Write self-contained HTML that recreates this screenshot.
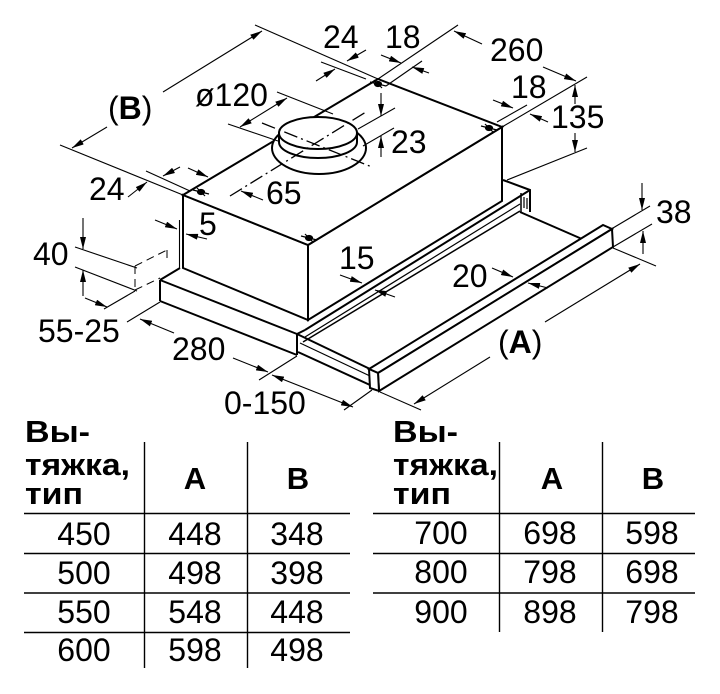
<!DOCTYPE html>
<html><head><meta charset="utf-8"><style>
html,body{margin:0;padding:0;background:#fff;}
svg{display:block;}
text{font-family:"Liberation Sans",Arial,sans-serif;fill:#000;}
</style></head><body>
<svg width="720" height="694" viewBox="0 0 720 694" xmlns="http://www.w3.org/2000/svg">
<defs>
<marker id="a" viewBox="0 0 12 6" refX="12" refY="3" markerWidth="12" markerHeight="6" markerUnits="userSpaceOnUse" orient="auto-start-reverse"><path d="M0,0L12,3L0,6z" fill="#000"/></marker>
</defs>
<rect width="720" height="694" fill="#fff"/>

<!-- base block -->
<g stroke="#000" stroke-width="2" fill="none" stroke-linejoin="miter">
<path d="M160,280L180,268"/>
<path d="M160,280L297,334"/>
<path d="M160,301L297,355"/>
<path d="M160,280V301"/>
<path d="M297,334V355"/>
<path d="M297,334L305,330"/>
<!-- rails -->
<path d="M305,330L530,190"/>
<path d="M305,337L520,204" stroke-width="1.2"/>
<path d="M303,342L520,211" stroke-width="1.5"/>
<!-- tray left rail -->
<path d="M297,334L370,369"/>
<path d="M300,343L370,376" stroke-width="1.2"/>
<path d="M298,352L370,385"/>
<!-- bracket -->
<path d="M503,180L530,190V212"/>
<path d="M521,193V212" stroke-width="1.5"/>
<path d="M524,197V208M527,198V209" stroke-width="1.2"/>
<!-- tray right edge -->
<path d="M520,212L582,239"/>
</g>

<!-- box -->
<g stroke="#000" stroke-width="2" fill="#fff" stroke-linejoin="miter">
<polygon points="183,195 308,245 308,320 183,268"/>
<polygon points="308,245 502,127 502,201 308,320"/>
<polygon points="183,195 378,79 502,127 308,245"/>
</g>
<path d="M179.5,220V268" stroke="#000" stroke-width="1.1"/>

<!-- bar -->
<g stroke="#000" stroke-width="2" fill="#fff" stroke-linejoin="miter">
<polygon points="369,369 603,225 612,229 378,373"/>
<polygon points="378,373 612,229 613,247 379,391"/>
<polygon points="369,369 378,373 379,391 370,388"/>
</g>

<!-- duct -->
<g stroke="#000" stroke-width="2" fill="#fff">
<ellipse cx="319" cy="148" rx="47" ry="26"/>
<path d="M279,133V142A39,16 0 0 0 357,142V133Z"/>
<ellipse cx="318" cy="133" rx="39" ry="16"/>
</g>

<!-- center lines -->
<g stroke="#000" stroke-width="1.3" fill="none" stroke-dasharray="14 4 2 4">
<path d="M230,196L366,112"/>
<path d="M262,123L372,167"/>
</g>

<!-- mounting marks -->
<g fill="#000" stroke="#000" stroke-width="1.2">
<ellipse cx="201" cy="192" rx="3.5" ry="2.5"/><path d="M193,190L209,194M197,188L205,196"/>
<ellipse cx="309" cy="238" rx="3.5" ry="2.5"/><path d="M301,236L317,240M305,234L313,242"/>
<ellipse cx="378" cy="84" rx="3.5" ry="2.5"/><path d="M370,82L386,86M374,80L382,88"/>
<ellipse cx="489" cy="128" rx="3.5" ry="2.5"/><path d="M481,126L497,130M485,124L493,132"/>
</g>

<!-- dimension lines -->
<g stroke="#000" stroke-width="1.1" fill="none">
<path d="M255,25L378,79"/>
<path d="M60,145L183,195"/>
<line x1="163" y1="92" x2="262" y2="31" marker-end="url(#a)"/>
<line x1="107" y1="127" x2="72" y2="148" marker-end="url(#a)"/>
<path d="M228,124L278,141"/>
<path d="M277,92L333,114"/>
<line x1="240" y1="127" x2="287" y2="98" marker-start="url(#a)" marker-end="url(#a)"/>
<path d="M321,62L366,79"/>
<line x1="316" y1="81" x2="335" y2="69" marker-end="url(#a)"/>
<line x1="366" y1="50" x2="347" y2="61" marker-end="url(#a)"/>
<path d="M378,79L458,25"/>
<path d="M386,86L422,61"/>
<line x1="381" y1="55" x2="401" y2="63" marker-end="url(#a)"/>
<line x1="429" y1="73" x2="412" y2="67" marker-end="url(#a)"/>
<path d="M502,127L587,77"/>
<line x1="482" y1="44" x2="454" y2="31" marker-end="url(#a)"/>
<line x1="543" y1="67" x2="576" y2="81" marker-end="url(#a)"/>
<path d="M497,122L527,105"/>
<line x1="493" y1="100" x2="513" y2="108" marker-end="url(#a)"/>
<line x1="548" y1="122" x2="530" y2="114" marker-end="url(#a)"/>
<path d="M507,180L587,148"/>
<line x1="575" y1="104" x2="575" y2="85" marker-end="url(#a)"/>
<line x1="575" y1="133" x2="575" y2="152" marker-end="url(#a)"/>
<path d="M358,129L395,108"/>
<path d="M363,146L394,128"/>
<line x1="381" y1="93" x2="381" y2="116" marker-end="url(#a)"/>
<line x1="381" y1="157" x2="381" y2="136" marker-end="url(#a)"/>
<line x1="263" y1="200" x2="241" y2="191" marker-end="url(#a)"/>
<path d="M146,171L190,191"/>
<line x1="128" y1="197" x2="147" y2="182" marker-end="url(#a)"/>
<line x1="180" y1="167" x2="163" y2="176" marker-end="url(#a)"/>
<line x1="188" y1="168" x2="208" y2="177" marker-end="url(#a)"/>
<line x1="155" y1="220" x2="177" y2="229" marker-end="url(#a)"/>
<line x1="207" y1="239" x2="186" y2="234" marker-end="url(#a)"/>
<path d="M75,247L137,268"/>
<path d="M75,267L137,291"/>
<line x1="83" y1="218" x2="83" y2="249" marker-end="url(#a)"/>
<line x1="83" y1="296" x2="83" y2="270" marker-end="url(#a)"/>
<path d="M135,291L104,309"/>
<line x1="85" y1="298" x2="107" y2="307" marker-end="url(#a)"/>
<path d="M160,302L127,322"/>
<path d="M297,356L259,380"/>
<line x1="174" y1="333" x2="140" y2="319" marker-end="url(#a)"/>
<line x1="233" y1="358" x2="268" y2="372" marker-end="url(#a)"/>
<path d="M372,390L344,410"/>
<line x1="272" y1="375" x2="353" y2="407" marker-start="url(#a)" marker-end="url(#a)"/>
<path d="M380,392L421,410"/>
<path d="M613,248L656,266"/>
<line x1="545" y1="322" x2="640" y2="264" marker-end="url(#a)"/>
<line x1="490" y1="357" x2="414" y2="404" marker-end="url(#a)"/>
<path d="M613,228L650,206"/>
<path d="M613,247L652,224"/>
<line x1="642" y1="183" x2="642" y2="210" marker-end="url(#a)"/>
<line x1="643" y1="254" x2="643" y2="231" marker-end="url(#a)"/>
<line x1="340" y1="275" x2="362" y2="283" marker-end="url(#a)"/>
<line x1="395" y1="297" x2="375" y2="290" marker-end="url(#a)"/>
<line x1="492" y1="268" x2="513" y2="277" marker-end="url(#a)"/>
<line x1="548" y1="288" x2="528" y2="283" marker-end="url(#a)"/>
</g>

<!-- dashed box -->
<g stroke="#000" stroke-width="1" fill="none" stroke-dasharray="8 5">
<path d="M135,266V290"/>
<path d="M135,266L167,250"/>
<path d="M167,250V262"/>
<path d="M135,290L160,278"/>
</g>

<!-- dimension labels -->
<g font-size="32">
<text x="323" y="48">24</text>
<text x="385" y="48">18</text>
<text x="490" y="61">260</text>
<text x="195" y="106">ø120</text>
<text x="108" y="119">(<tspan font-weight="bold">B</tspan>)</text>
<text x="511" y="98">18</text>
<text x="551" y="128">135</text>
<text x="391" y="153">23</text>
<text x="89" y="200">24</text>
<text x="266" y="204">65</text>
<text x="199" y="235">5</text>
<text x="33" y="265">40</text>
<text x="339" y="269">15</text>
<text x="452" y="287">20</text>
<text x="656" y="223">38</text>
<text x="38" y="342">55-25</text>
<text x="498" y="353">(<tspan font-weight="bold">A</tspan>)</text>
<text x="172" y="360">280</text>
<text x="224" y="414">0-150</text>
</g>

<!-- tables -->
<g stroke="#000" stroke-width="1.4">
<line x1="144.5" y1="442" x2="144.5" y2="668"/>
<line x1="247.5" y1="442" x2="247.5" y2="668"/>
<line x1="24" y1="513.5" x2="350" y2="513.5"/>
<line x1="24" y1="553.5" x2="350" y2="553.5"/>
<line x1="24" y1="593" x2="350" y2="593"/>
<line x1="24" y1="632.5" x2="350" y2="632.5"/>
<line x1="499.5" y1="442" x2="499.5" y2="632"/>
<line x1="602.5" y1="442" x2="602.5" y2="632"/>
<line x1="373" y1="513.5" x2="695" y2="513.5"/>
<line x1="373" y1="553.5" x2="695" y2="553.5"/>
<line x1="373" y1="593" x2="695" y2="593"/>
</g>

<g font-size="31" font-weight="bold">
<text x="25" y="442" textLength="65" lengthAdjust="spacingAndGlyphs">Вы-</text>
<text x="25" y="475" textLength="105" lengthAdjust="spacingAndGlyphs">тяжка,</text>
<text x="25" y="504" textLength="58" lengthAdjust="spacingAndGlyphs">тип</text>
<text x="195" y="489" text-anchor="middle">A</text>
<text x="298" y="489" text-anchor="middle">B</text>
<text x="393" y="442" textLength="65" lengthAdjust="spacingAndGlyphs">Вы-</text>
<text x="393" y="475" textLength="105" lengthAdjust="spacingAndGlyphs">тяжка,</text>
<text x="393" y="504" textLength="58" lengthAdjust="spacingAndGlyphs">тип</text>
<text x="552" y="489" text-anchor="middle">A</text>
<text x="653" y="489" text-anchor="middle">B</text>
</g>

<g font-size="32" text-anchor="middle">
<text x="84" y="545">450</text><text x="195" y="545">448</text><text x="297" y="545">348</text>
<text x="84" y="584">500</text><text x="195" y="584">498</text><text x="297" y="584">398</text>
<text x="84" y="623">550</text><text x="195" y="623">548</text><text x="297" y="623">448</text>
<text x="84" y="661">600</text><text x="195" y="661">598</text><text x="297" y="661">498</text>
<text x="441" y="544">700</text><text x="550" y="544">698</text><text x="652" y="544">598</text>
<text x="441" y="583">800</text><text x="550" y="583">798</text><text x="652" y="583">698</text>
<text x="441" y="623">900</text><text x="550" y="623">898</text><text x="652" y="623">798</text>
</g>
</svg>
</body></html>
